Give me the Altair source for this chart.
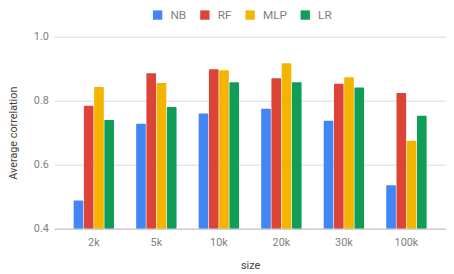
import altair as alt
import pandas as pd

sizes = ["2k", "5k", "10k", "20k", "30k", "100k"]
models = ["NB", "RF", "MLP", "LR"]
nb = [0.488, 0.728, 0.760, 0.775, 0.737, 0.536]
rf = [0.784, 0.886, 0.898, 0.870, 0.853, 0.824]
mlp = [0.843, 0.855, 0.895, 0.917, 0.873, 0.675]
lr = [0.740, 0.780, 0.858, 0.858, 0.841, 0.753]
colors = ["#4285F4", "#DB4437", "#F4B400", "#0F9D58"]
baseline = 0.4

rows = []
for m, vals in zip(models, [nb, rf, mlp, lr]):
    for s, v in zip(sizes, vals):
        rows.append({"size": s, "model": m, "value": v})
df = pd.DataFrame(rows)

FONT = "Roboto"
LABEL = "#808080"
TITLE = "#444444"

chart = alt.Chart(df).mark_bar(cornerRadius=1).encode(
    x=alt.X("size:N", sort=sizes, title="size",
            scale=alt.Scale(paddingInner=0.354, paddingOuter=0.31),
            axis=alt.Axis(labelAngle=0, ticks=False, domainColor="#c0c0c0",
                          labelPadding=8, titlePadding=13, labelColor=LABEL,
                          titleColor=TITLE, labelFontSize=11, titleFontSize=11,
                          titleFontWeight="normal", labelFont=FONT, titleFont=FONT,
                          zindex=1)),
    xOffset=alt.XOffset("model:N", sort=models, scale=alt.Scale(paddingInner=0.06)),
    y=alt.Y("value:Q", title="Average correlation",
            scale=alt.Scale(domain=[0.4, 1.0], zero=False, nice=False),
            axis=alt.Axis(values=[0.4, 0.6, 0.8, 1.0], format=".1f", domain=False,
                          ticks=False, labelPadding=6, gridColor="#dadada",
                          labelColor=LABEL, titleColor=TITLE,
                          labelFontSize=11, titleFontSize=11, titleFontWeight="normal",
                          titlePadding=15, labelFont=FONT, titleFont=FONT)),
    y2=alt.Y2(datum=baseline),
    color=alt.Color("model:N", sort=models,
                    scale=alt.Scale(domain=models, range=colors),
                    legend=alt.Legend(title=None, orient="none", direction="horizontal",
                                      legendX=99, legendY=-28, symbolType="square",
                                      symbolSize=90, symbolStrokeWidth=0,
                                      labelFontSize=12, labelColor=LABEL,
                                      labelFont=FONT, labelOffset=7, columnPadding=12)),
).properties(
    width=398, height=195,
    autosize=alt.AutoSizeParams(type="none"),
    padding={"left": 47, "top": 27, "right": 0, "bottom": 50},
).configure_view(stroke=None)

chart.save("out.html", embed_options={"renderer": "svg", "actions": False})
